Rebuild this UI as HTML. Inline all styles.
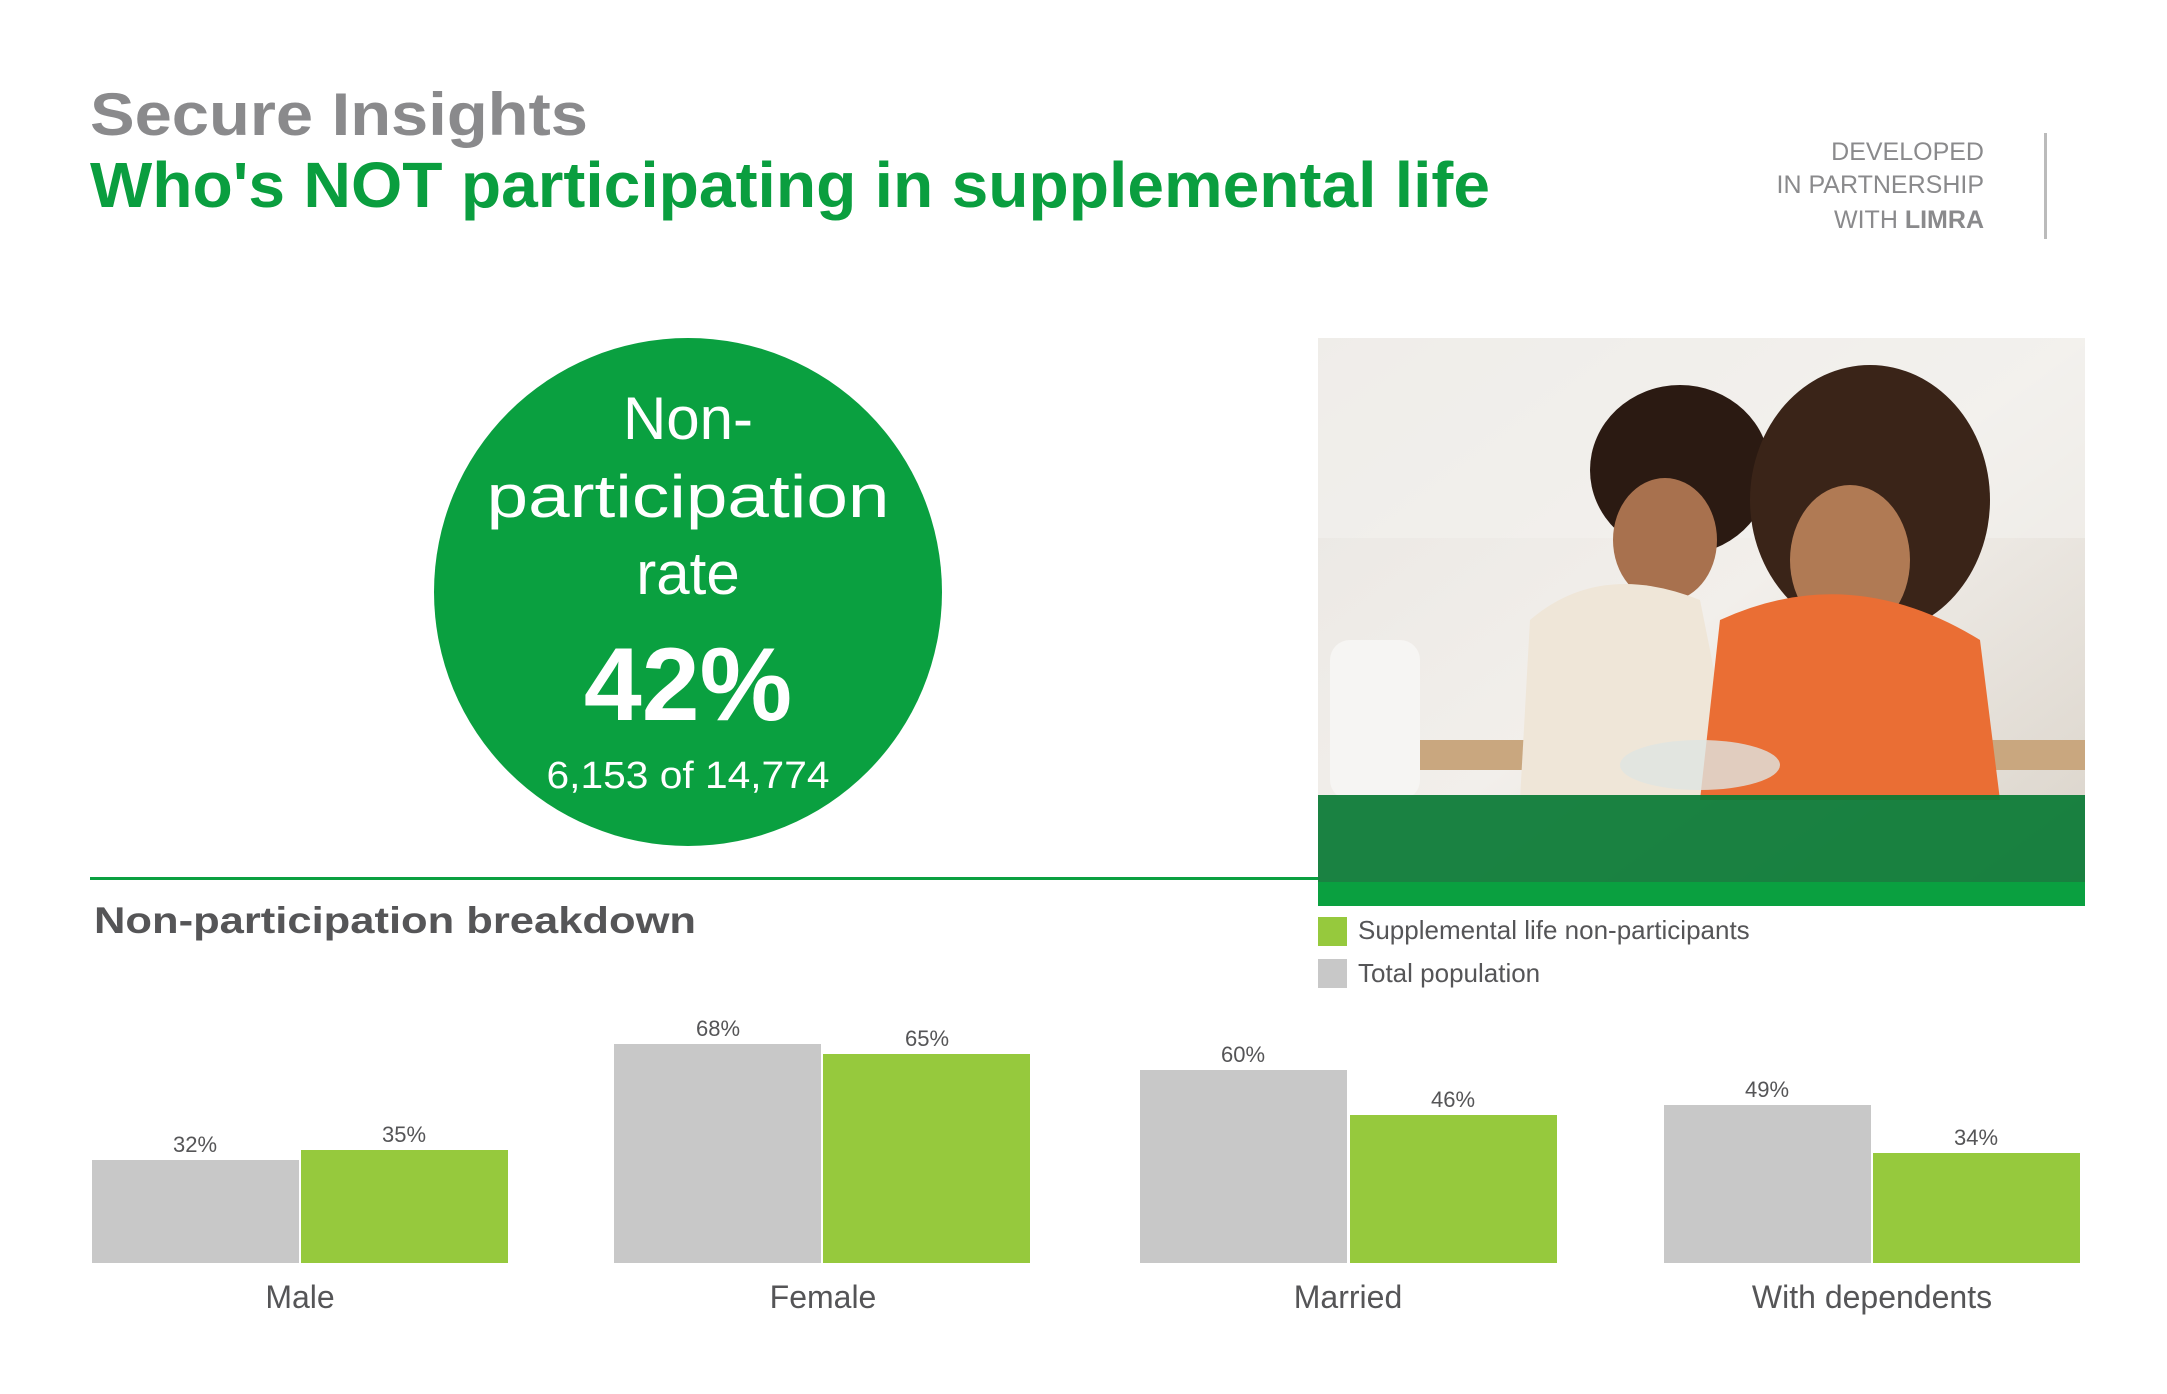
<!DOCTYPE html>
<html><head><meta charset="utf-8"><style>
html,body{margin:0;padding:0;background:#fff;}
svg{display:block;font-family:"Liberation Sans",sans-serif;}
</style></head><body>
<svg width="2167" height="1394" viewBox="0 0 2167 1394" xmlns="http://www.w3.org/2000/svg">
<defs>
<linearGradient id="bg" x1="0" y1="0" x2="1" y2="1">
<stop offset="0" stop-color="#e9e6e2"/><stop offset="0.5" stop-color="#f2efeb"/><stop offset="1" stop-color="#d9d2c8"/>
</linearGradient>
</defs>
<text x="90" y="135" font-size="60" font-weight="bold" fill="#8a8a8c" textLength="498" lengthAdjust="spacingAndGlyphs">Secure Insights</text>
<text x="90" y="207" font-size="64" font-weight="bold" fill="#0a9e3f" textLength="1400" lengthAdjust="spacingAndGlyphs">Who's NOT participating in supplemental life</text>
<g font-size="25" fill="#8a8a8c" text-anchor="end">
<text x="1984" y="160">DEVELOPED</text>
<text x="1984" y="193">IN PARTNERSHIP</text>
<text x="1984" y="228">WITH <tspan font-weight="bold">LIMRA</tspan></text>
</g>
<rect x="2044" y="133" width="3" height="106" fill="#bbb"/>

<circle cx="688" cy="592" r="254" fill="#0aa040"/>
<g fill="#fff" text-anchor="middle">
<text x="688" y="439" font-size="60">Non-</text>
<text x="688" y="517" font-size="60" textLength="403" lengthAdjust="spacingAndGlyphs">participation</text>
<text x="688" y="594" font-size="60">rate</text>
<text x="688" y="720" font-size="104" font-weight="bold">42%</text>
<text x="688" y="788" font-size="38" textLength="283" lengthAdjust="spacingAndGlyphs">6,153 of 14,774</text>
</g>

<!-- photo -->
<rect x="1318" y="338" width="767" height="568" fill="url(#bg)"/>
<rect x="1318" y="338" width="767" height="200" fill="#f3f1ee" opacity="0.6"/>
<rect x="1330" y="640" width="90" height="160" rx="20" fill="#f6f5f3"/>
<rect x="1420" y="740" width="665" height="30" fill="#c9a77f"/>
<ellipse cx="1680" cy="470" rx="90" ry="85" fill="#2b1a12"/>
<ellipse cx="1665" cy="540" rx="52" ry="62" fill="#a8714e"/>
<path d="M1530 620 Q1600 560 1700 600 L1740 800 L1520 800 Z" fill="#efe6d8"/>
<ellipse cx="1870" cy="500" rx="120" ry="135" fill="#3a2418"/>
<ellipse cx="1850" cy="560" rx="60" ry="75" fill="#b07a54"/>
<path d="M1720 620 Q1850 560 1980 640 L2000 800 L1700 800 Z" fill="#ea6e34"/>
<ellipse cx="1700" cy="765" rx="80" ry="25" fill="#dfe5e2" opacity="0.8"/>
<rect x="1318" y="795" width="767" height="87" fill="#0a7a35" opacity="0.93"/>
<rect x="1318" y="882" width="767" height="24" fill="#0aa040"/>

<rect x="90" y="877" width="1228" height="3" fill="#0aa040"/>
<text x="94" y="933" font-size="37" font-weight="bold" fill="#555557" textLength="602" lengthAdjust="spacingAndGlyphs">Non-participation breakdown</text>

<rect x="1318" y="917" width="29" height="29" fill="#96c93d"/>
<text x="1358" y="939" font-size="26" fill="#555557">Supplemental life non-participants</text>
<rect x="1318" y="959" width="29" height="29" fill="#c8c8c8"/>
<text x="1358" y="982" font-size="26" fill="#555557">Total population</text>

<g>
<rect x="92" y="1160" width="207" height="103" fill="#c8c8c8"/>
<rect x="301" y="1150" width="207" height="113" fill="#96c93d"/>
<rect x="614" y="1044" width="207" height="219" fill="#c8c8c8"/>
<rect x="823" y="1054" width="207" height="209" fill="#96c93d"/>
<rect x="1140" y="1070" width="207" height="193" fill="#c8c8c8"/>
<rect x="1350" y="1115" width="207" height="148" fill="#96c93d"/>
<rect x="1664" y="1105" width="207" height="158" fill="#c8c8c8"/>
<rect x="1873" y="1153" width="207" height="110" fill="#96c93d"/>
</g>
<g font-size="22" fill="#555557" text-anchor="middle">
<text x="195" y="1152">32%</text>
<text x="404" y="1142">35%</text>
<text x="718" y="1036">68%</text>
<text x="927" y="1046">65%</text>
<text x="1243" y="1062">60%</text>
<text x="1453" y="1107">46%</text>
<text x="1767" y="1097">49%</text>
<text x="1976" y="1145">34%</text>
</g>
<g font-size="32" fill="#555557" text-anchor="middle">
<text x="300" y="1308">Male</text>
<text x="823" y="1308">Female</text>
<text x="1348" y="1308">Married</text>
<text x="1872" y="1308">With dependents</text>
</g>
</svg>
</body></html>
